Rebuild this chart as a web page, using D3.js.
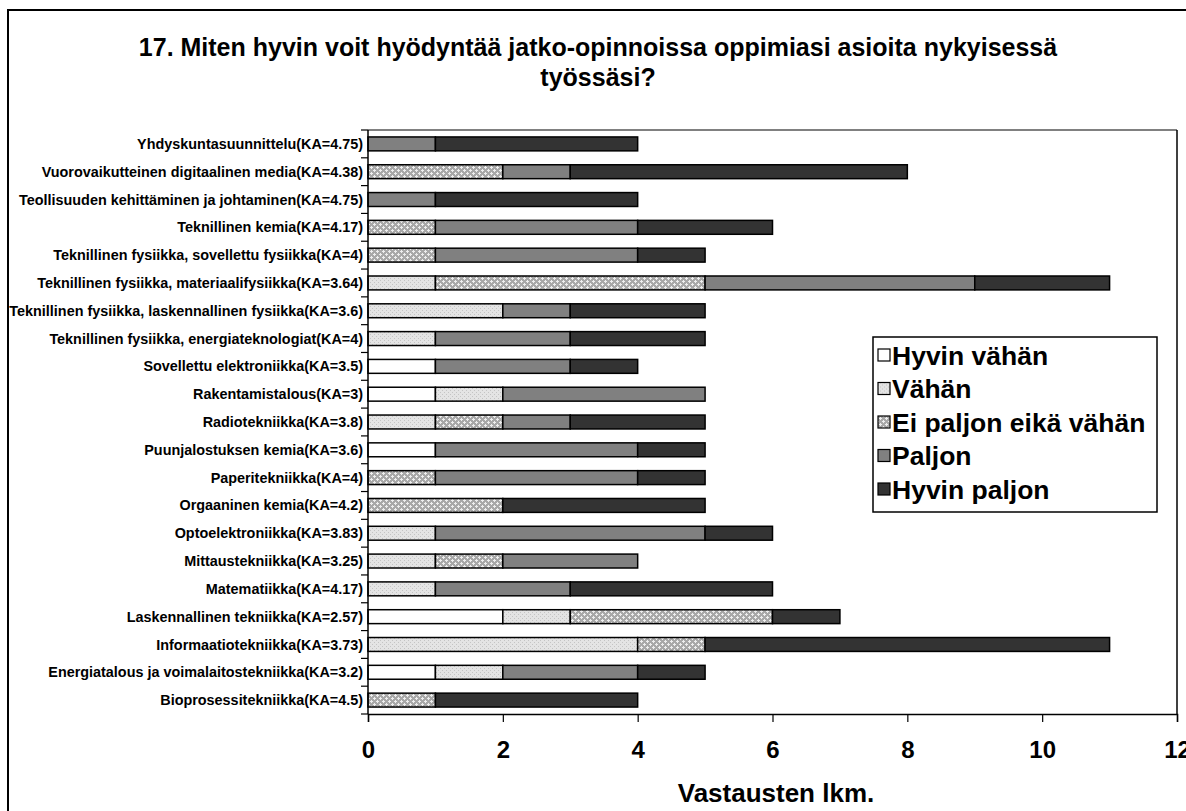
<!DOCTYPE html>
<html>
<head>
<meta charset="utf-8">
<script src="https://cdn.jsdelivr.net/npm/d3@7"></script>
<style>
  html, body { margin: 0; padding: 0; background: #fff; }
  svg { display: block; }
  text { font-family: "Liberation Sans", Arial, sans-serif; font-weight: bold; fill: #000; }
</style>
</head>
<body>
<svg id="chart" width="1186" height="811"></svg>
<script>
// Survey question and programmes (top to bottom as drawn)
const titleLines = [
  "17. Miten hyvin voit hyödyntää jatko-opinnoissa oppimiasi asioita nykyisessä",
  "työssäsi?"
];
const categories = [
  "Yhdyskuntasuunnittelu(KA=4.75)",
  "Vuorovaikutteinen digitaalinen media(KA=4.38)",
  "Teollisuuden kehittäminen ja johtaminen(KA=4.75)",
  "Teknillinen kemia(KA=4.17)",
  "Teknillinen fysiikka, sovellettu fysiikka(KA=4)",
  "Teknillinen fysiikka, materiaalifysiikka(KA=3.64)",
  "Teknillinen fysiikka, laskennallinen fysiikka(KA=3.6)",
  "Teknillinen fysiikka, energiateknologiat(KA=4)",
  "Sovellettu elektroniikka(KA=3.5)",
  "Rakentamistalous(KA=3)",
  "Radiotekniikka(KA=3.8)",
  "Puunjalostuksen kemia(KA=3.6)",
  "Paperitekniikka(KA=4)",
  "Orgaaninen kemia(KA=4.2)",
  "Optoelektroniikka(KA=3.83)",
  "Mittaustekniikka(KA=3.25)",
  "Matematiikka(KA=4.17)",
  "Laskennallinen tekniikka(KA=2.57)",
  "Informaatiotekniikka(KA=3.73)",
  "Energiatalous ja voimalaitostekniikka(KA=3.2)",
  "Bioprosessitekniikka(KA=4.5)"
];

// Response counts per answer option
const hyvinVahan  = [0,0,0,0,0,0,0,0,1,1,0,1,0,0,0,0,0,2,0,1,0];
const vahan       = [0,0,0,0,0,1,2,1,0,1,1,0,0,0,1,1,1,1,4,1,0];
const eiPaljon    = [0,2,0,1,1,4,0,0,0,0,1,0,1,2,0,1,0,3,1,0,1];
const paljon      = [1,1,1,3,3,4,1,2,2,3,1,3,3,0,4,2,2,0,0,2,0];
const hyvinPaljon = [3,5,3,2,1,2,2,2,1,0,2,1,1,3,1,0,3,1,6,1,3];

const seriesNames = ["Hyvin vähän", "Vähän", "Ei paljon eikä vähän", "Paljon", "Hyvin paljon"];
const seriesKeys = ["hv", "v", "ep", "p", "hp"];
const xTicks = [0, 2, 4, 6, 8, 10, 12];
const xTitle = "Vastausten lkm.";

const rows = categories.map((c, i) => ({
  cat: c, hv: hyvinVahan[i], v: vahan[i], ep: eiPaljon[i], p: paljon[i], hp: hyvinPaljon[i]
}));

const svg = d3.select("#chart");
const W = 1186, H = 811;

// Fill patterns
const defs = svg.append("defs");
const pv = defs.append("pattern").attr("id", "patV").attr("width", 4).attr("height", 4)
  .attr("patternUnits", "userSpaceOnUse");
pv.append("rect").attr("width", 4).attr("height", 4).attr("fill", "#e4e4e4");
pv.append("rect").attr("x", 0).attr("y", 0).attr("width", 1).attr("height", 1).attr("fill", "#c4c4c4");
pv.append("rect").attr("x", 2).attr("y", 2).attr("width", 1).attr("height", 1).attr("fill", "#c4c4c4");

const pe = defs.append("pattern").attr("id", "patE").attr("width", 6).attr("height", 6)
  .attr("patternUnits", "userSpaceOnUse");
pe.append("rect").attr("width", 6).attr("height", 6).attr("fill", "#a8a8a8");
pe.append("rect").attr("x", 1).attr("y", 2).attr("width", 3).attr("height", 1).attr("fill", "#eeeeee");
pe.append("rect").attr("x", 2).attr("y", 1).attr("width", 1).attr("height", 3).attr("fill", "#eeeeee");
pe.append("rect").attr("x", 4).attr("y", 5).attr("width", 3).attr("height", 1).attr("fill", "#eeeeee");
pe.append("rect").attr("x", 5).attr("y", 4).attr("width", 1).attr("height", 3).attr("fill", "#eeeeee");
pe.append("rect").attr("x", -1).attr("y", 5).attr("width", 2).attr("height", 1).attr("fill", "#eeeeee");
pe.append("rect").attr("x", 5).attr("y", -1).attr("width", 1).attr("height", 2).attr("fill", "#eeeeee");

const fills = {
  hv: "#ffffff",
  v: "url(#patV)",
  ep: "url(#patE)",
  p: "#808080",
  hp: "#333333"
};

// Background and outer frame
svg.append("rect").attr("width", W).attr("height", H).attr("fill", "#fff");
svg.append("rect").attr("x", 8).attr("y", 10).attr("width", W + 20).attr("height", H + 20)
  .attr("fill", "none").attr("stroke", "#000").attr("stroke-width", 2);

// Plot area
const plot = { left: 368, right: 1177, top: 130, bottom: 714 };

const x = d3.scaleLinear().domain([0, 12]).range([plot.left, plot.right]);
const y = d3.scaleBand().domain(categories).range([plot.top, plot.bottom])
  .paddingInner(0.5).paddingOuter(0.25);

// Plot area border (top in gray, right in black)
svg.append("line").attr("x1", plot.left).attr("x2", plot.right)
  .attr("y1", plot.top).attr("y2", plot.top).attr("stroke", "#808080").attr("stroke-width", 2);
svg.append("line").attr("x1", plot.right).attr("x2", plot.right)
  .attr("y1", plot.top).attr("y2", plot.bottom).attr("stroke", "#000").attr("stroke-width", 1.5);

// Title
svg.append("text").attr("x", 598).attr("y", 56).attr("text-anchor", "middle")
  .attr("font-size", 25).text(titleLines[0]);
svg.append("text").attr("x", 598).attr("y", 86).attr("text-anchor", "middle")
  .attr("font-size", 25).text(titleLines[1]);

// Stacked bars
const stack = d3.stack().keys(seriesKeys);
const layers = stack(rows);

svg.append("g").selectAll("g")
  .data(layers)
  .join("g")
  .attr("fill", d => fills[d.key])
  .selectAll("rect")
  .data(d => d.filter(s => s[1] - s[0] > 0))
  .join("rect")
  .attr("x", d => x(d[0]))
  .attr("y", d => y(d.data.cat))
  .attr("width", d => x(d[1]) - x(d[0]))
  .attr("height", y.bandwidth())
  .attr("stroke", "#000")
  .attr("stroke-width", 1.5);

// Y axis: line, ticks at category boundaries, labels
const step = y.step();
const yAxis = svg.append("g");
yAxis.append("line").attr("x1", plot.left).attr("x2", plot.left)
  .attr("y1", plot.top).attr("y2", plot.bottom).attr("stroke", "#000").attr("stroke-width", 1.5);
yAxis.selectAll("line.tick")
  .data(d3.range(categories.length + 1))
  .join("line").attr("class", "tick")
  .attr("x1", plot.left - 7).attr("x2", plot.left)
  .attr("y1", i => plot.top + i * step).attr("y2", i => plot.top + i * step)
  .attr("stroke", "#000").attr("stroke-width", 1.2);
yAxis.selectAll("text")
  .data(categories)
  .join("text")
  .attr("x", plot.left - 5)
  .attr("y", d => y(d) + y.bandwidth() / 2)
  .attr("dy", "0.35em")
  .attr("text-anchor", "end")
  .attr("font-size", 14.4)
  .text(d => d);

// X axis
const xAxis = svg.append("g").attr("transform", `translate(0,${plot.bottom})`)
  .call(d3.axisBottom(x).tickValues(xTicks).tickSize(8).tickPadding(19).tickFormat(d3.format("d")));
xAxis.select(".domain").attr("stroke", "#000").attr("stroke-width", 1.5);
xAxis.selectAll(".tick line").attr("stroke", "#000").attr("stroke-width", 1.2);
xAxis.selectAll(".tick text")
  .attr("font-size", 24).attr("font-family", "'Liberation Sans', Arial, sans-serif")
  .attr("font-weight", "bold").attr("fill", "#000");

svg.append("text").attr("x", 776).attr("y", 802).attr("text-anchor", "middle")
  .attr("font-size", 26).text(xTitle);

// Legend
const lg = svg.append("g").attr("transform", "translate(873,337)");
lg.append("rect").attr("width", 284).attr("height", 175)
  .attr("fill", "#fff").attr("stroke", "#000").attr("stroke-width", 1.5);
const item = lg.selectAll("g.item")
  .data(seriesKeys)
  .join("g").attr("class", "item")
  .attr("transform", (d, i) => `translate(5,${18 + i * 33.5})`);
item.append("rect").attr("x", 0).attr("y", -6).attr("width", 12).attr("height", 12)
  .attr("fill", d => fills[d]).attr("stroke", "#000").attr("stroke-width", 1.2);
item.append("text").attr("x", 14).attr("y", 0).attr("dy", "0.36em")
  .attr("font-size", 26.5).text((d, i) => seriesNames[i]);
</script>
</body>
</html>
